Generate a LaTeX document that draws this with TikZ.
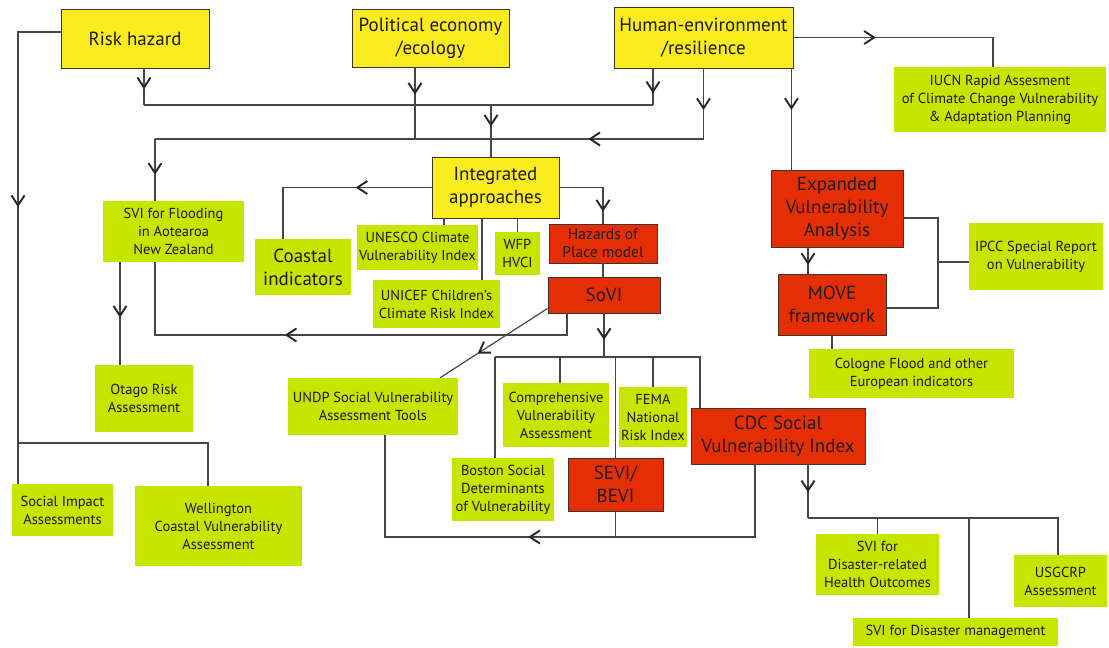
\documentclass[tikz,border=0pt]{standalone}
\usepackage{fontspec}
\setmainfont{PT Sans}
\usetikzlibrary{arrows.meta,decorations.markings}
\definecolor{HZYELLOW}{RGB}{250,236,30}
\definecolor{HZRED}{RGB}{230,46,4}
\definecolor{HZGREEN}{RGB}{198,230,0}
\definecolor{BOXLINE}{RGB}{64,52,40}
\definecolor{LINEGRAY}{RGB}{70,70,70}
\definecolor{TEXTDARK}{RGB}{30,26,27}
\newcommand{\LARGETXT}{\fontsize{19}{23}\selectfont}
\newcommand{\SMALLTXT}{\fontsize{14.5}{18}\selectfont}
\tikzset{
->-/.style={decoration={markings, mark=at position #1 with {\arrow[line width=1.9pt,draw=black!85]{Straight Barb[length=10pt,width=13pt]}}},postaction={decorate}},
->-/.default=.5,
LINE/.style={draw=LINEGRAY,line join=miter,line width=1.2pt},
BOX/.style={inner sep=0pt,align=center,text=TEXTDARK},
YELLOW/.style={BOX,fill=HZYELLOW,draw=BOXLINE,line width=0.9pt,font=\LARGETXT},
RED/.style={BOX,fill=HZRED,draw=BOXLINE,line width=0.9pt,font=\LARGETXT},
GREEN/.style={BOX,fill=HZGREEN,draw=none,font=\SMALLTXT},
}
\begin{document}
\begin{tikzpicture}
[x=1pt,y=-1pt]
	\useasboundingbox (0,0) rectangle (1109,648);
	%Approaches
	\node[YELLOW,minimum width=148,minimum height=59] (rh) at (135,38.5) {Risk hazard};
	\node[YELLOW,minimum width=157,minimum height=58] (pe) at (430.5,38) {Political economy\\/ecology};
	\node[YELLOW,minimum width=179,minimum height=61] (he) at (703.5,37.5) {Human-environment\\/resilience};
	\node[GREEN,minimum width=212,minimum height=65] (iucn) at (1000,99.5) {IUCN Rapid Assesment\\of Climate Change Vulnerability\\\& Adaptation Planning};
	\node[YELLOW,minimum width=127,minimum height=61] (ia) at (495.5,187.5) {Integrated\\approaches};
	\node[RED,minimum width=132,minimum height=77] (ev) at (837,208.5) {Expanded\\Vulnerability\\Analysis};
	%Indices
	\node[GREEN,minimum width=141,minimum height=61] (svif) at (173.5,231.5) {SVI for Flooding\\in Aotearoa\\New Zealand};
	\node[GREEN,font=\LARGETXT,minimum width=96,minimum height=56] (coast) at (303,267) {Coastal\\indicators};
	\node[GREEN,minimum width=121,minimum height=45] (unesco) at (417.5,247.5) {UNESCO Climate\\Vulnerability Index};
	\node[GREEN,minimum width=45,minimum height=43] (wfp) at (517.5,253.5) {WFP\\HVCI};
	\node[GREEN,minimum width=127,minimum height=48] (unicef) at (436.5,304) {UNICEF Children’s\\Climate Risk Index};
	\node[RED,font=\fontsize{15.5}{18}\selectfont,minimum width=108,minimum height=39] (hop) at (603,243.5) {Hazards of\\Place model};
	\node[RED,minimum width=112,minimum height=36] (sovi) at (604,295) {SoVI};
	\node[GREEN,minimum width=134,minimum height=67] (ipcc) at (1036,256.5) {IPCC Special Report\\on Vulnerability};
	\node[RED,minimum width=108,minimum height=61] (move) at (832,304.5) {MOVE\\framework};
	\node[GREEN,minimum width=205,minimum height=49] (cologne) at (911.5,373.5) {Cologne Flood and other\\European indicators};
	\node[GREEN,minimum width=98,minimum height=67] (otago) at (144,398.5) {Otago Risk\\Assessment};
	\node[GREEN,minimum width=170,minimum height=57] (undp) at (373,406.5) {UNDP Social Vulnerability\\Assessment Tools};
	\node[GREEN,minimum width=106,minimum height=64] (comp) at (556,415) {Comprehensive\\Vulnerability\\Assessment};
	\node[GREEN,minimum width=68,minimum height=60] (fema) at (653,417) {FEMA\\National\\Risk Index};
	\node[RED,minimum width=174,minimum height=56] (cdc) at (778,436) {CDC Social\\Vulnerability Index};
	\node[GREEN,minimum width=102,minimum height=63] (boston) at (503,489.5) {Boston Social\\Determinants\\of Vulnerability};
	\node[RED,minimum width=95,minimum height=53] (sevi) at (615.5,484.5) {SEVI/\\BEVI};
	\node[GREEN,minimum width=101,minimum height=52] (sia) at (62.5,510) {Social Impact\\Assessments};
	\node[GREEN,minimum width=167,minimum height=80] (well) at (218.5,526) {Wellington\\Coastal Vulnerability\\Assessment};
	\node[GREEN,minimum width=123,minimum height=61] (svih) at (877.5,564.5) {SVI for\\Disaster-related\\Health Outcomes};
	\node[GREEN,minimum width=93,minimum height=52] (usg) at (1060.5,581) {USGCRP\\Assessment};
	\node[GREEN,minimum width=205,minimum height=28] (svid) at (955.5,632) {SVI for Disaster management};
	%Junctions
	\coordinate (busA) at (491,105);
	\coordinate (busB) at (155,139);
	\coordinate (busC) at (155,335);
	\coordinate (busD) at (495,357);
	\coordinate (busE) at (385,537);
	\coordinate (busF) at (808,518);
	\coordinate (ipj) at (938,262);
	\coordinate (jL) at (18,443);
	%Risk hazard trunk
	\path[LINE,->-=.48] ([yshift=6.5]rh.west) -| (jL);
	\path[LINE] (jL) -- (jL |- sia.north);
	\path[LINE] (jL) -| ([xshift=-10.5]well.north);
	%Into integrated approaches
	\path[LINE,->-=.57] ([xshift=9]rh.south) -- ([xshift=9]rh.south |- busA);
	\path[LINE,->-=.68] ([xshift=-50.5]he.south) -- ([xshift=-50.5]he.south |- busA);
	\path[LINE] ([xshift=9]rh.south |- busA) -- ([xshift=-50.5]he.south |- busA);
	\path[LINE,->-=.42] (busA) -- (busA |- ia.north);
	\path[LINE,->-=.38] ([xshift=-15.5]pe.south) -- ([xshift=-15.5]pe.south |- busB);
	\path[LINE,->-=.59] (he.south) -- (he.south |- busB);
	\path[LINE,->-=.21] (he.south |- busB) -- (busB);
	\path[LINE,->-=.58] (busB) -- (busB |- svif.north);
	\path[LINE,->-=.36] (he.east) -| ([xshift=-7]iucn.north);
	\path[LINE,->-=.41] ([xshift=-2]he.south east) -- ([xshift=-2]he.south east |- ev.north);
	%Integrated approaches
	\path[LINE,->-=.85] (ia.east) -| (hop.north);
	\path[LINE,->-=.38] (ia.west) -| ([xshift=-20]coast.north);
	\path[LINE] ([xshift=26.5]unesco.north) -- ([xshift=26.5]unesco.north |- ia.south);
	\path[LINE] ([xshift=45.5]unicef.north) -- ([xshift=45.5]unicef.north |- ia.south);
	\path[LINE] (wfp.north) -- (wfp.north |- ia.south);
	\path[LINE] (hop.south) -- (hop.south |- sovi.north);
	%SoVI
	\path[LINE,->-=.6] ([xshift=-37]sovi.south) |- (busC) -- ([xshift=-18.5]svif.south);
	\path[LINE,->-=.61] (sovi.south) -- (sovi.south |- busD);
	\path[LINE] (busD) -| ([xshift=-78]cdc.north);
	\path[LINE] (busD) -- ([xshift=-8]boston.north);
	\path[LINE] ([xshift=4]comp.north) -- ([xshift=4]comp.north |- busD);
	\path[LINE] (sevi.north) -- (sevi.north |- busD);
	\path[LINE] (fema.north) -- (fema.north |- busD);
	\path[LINE,->-=.65] ([yshift=5]sovi.south west) -- ([xshift=67]undp.north);
	\path[LINE,->-=.55] ([xshift=-23]cdc.south) |- (busE) -- ([xshift=12]undp.south);
	\path[LINE] (sevi.south) -- (sevi.south |- busE);
	%CDC
	\path[LINE,->-=.52] ([xshift=30]cdc.south) -- (busF);
	\path[LINE] (busF) -| ([xshift=-2.5]usg.north);
	\path[LINE] (svih.north) -- (svih.north |- busF);
	\path[LINE] ([xshift=13.5]svid.north) -- ([xshift=13.5]svid.north |- busF);
	%Expanded vulnerability
	\path[LINE,->-=.67] ([xshift=-29]ev.south) -- ([xshift=-29]ev.south |- move.north);
	\path[LINE] ([yshift=-9.5]ev.east) -| (ipj) |- ([yshift=-3.5]move.east);
	\path[LINE] (ipj) -- (ipj -| ipcc.west);
	\path[LINE] (move.south) -- (move.south |- cologne.north);
	\path[LINE,->-=.54] ([xshift=-53.5]svif.south) -- ([xshift=-53.5]svif.south |- otago.north);
\end{tikzpicture}
\end{document}
